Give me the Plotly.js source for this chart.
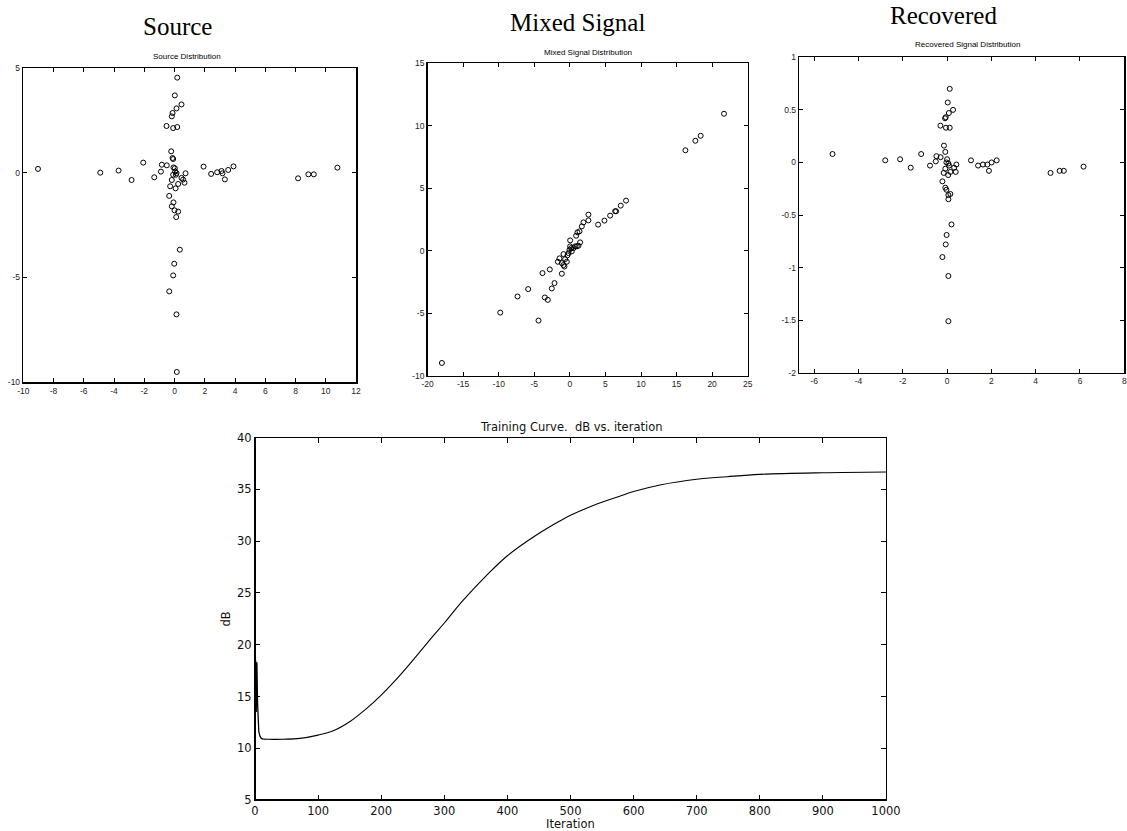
<!DOCTYPE html>
<html>
<head>
<meta charset="utf-8">
<script src="https://cdn.plot.ly/plotly-3.0.1.min.js"></script>
<style>
html,body{margin:0;padding:0;background:#fff;}
#chart{width:1127px;height:831px;}
</style>
</head>
<body>
<div id="chart"></div>
<script>
// ---------- DATA ----------
const sourceX = [0.18,0.02,0.46,0.13,-0.13,-0.18,-0.53,-0.09,0.18,-0.22,-0.13,-0.09,
  -9.03,-4.91,-3.70,-2.84,-2.07,-1.34,-0.84,-0.90,-0.51,-0.07,0.02,-0.09,0.04,0.13,0.09,
  0.73,0.46,0.57,0.66,0.24,-0.18,-0.29,0.07,
  1.92,2.42,2.82,3.11,3.17,3.33,3.55,3.90,8.17,8.85,9.21,10.77,
  -0.35,-0.07,-0.18,0.24,0.00,0.11,0.35,-0.02,-0.09,-0.35,0.13,0.15];
const sourceY = [4.54,3.69,3.26,3.07,2.85,2.69,2.23,2.13,2.18,1.02,0.70,0.65,
  0.18,0.00,0.10,-0.35,0.48,-0.22,0.38,0.05,0.35,0.25,0.21,-0.10,0.06,-0.02,-0.10,
  -0.03,-0.25,-0.33,-0.48,-0.54,-0.35,-0.65,-0.75,
  0.29,-0.06,0.02,0.08,-0.03,-0.32,0.13,0.30,-0.27,-0.08,-0.08,0.24,
  -1.11,-1.42,-1.61,-1.86,-1.80,-2.12,-3.68,-4.35,-4.91,-5.67,-6.77,-9.52];

const mixedX = [-17.99,-9.79,-7.36,-5.86,-4.41,-3.85,-3.52,-3.10,-2.82,-2.54,-2.16,-1.69,-1.46,
  -1.13,-1.13,-0.90,-0.76,-0.90,-0.66,-0.43,-0.34,-0.19,-0.05,0.04,0.04,0.18,0.27,0.51,0.74,
  0.97,1.21,1.44,0.88,1.07,1.35,1.68,1.91,2.61,2.61,3.97,4.86,5.66,6.36,6.50,7.15,7.90,
  16.24,17.64,18.39,21.67];
const mixedY = [-8.98,-4.95,-3.66,-3.07,-5.59,-1.79,-3.74,-3.93,-1.50,-3.02,-2.59,-0.88,-0.61,
  -1.84,-0.99,-1.15,-1.26,-0.27,-0.67,-0.88,-0.37,-0.19,0.08,0.35,0.83,0.21,-0.05,0.21,0.35,
  0.35,0.40,0.67,1.20,1.47,1.55,1.95,2.27,2.43,2.89,2.09,2.41,2.81,3.16,3.16,3.61,4.01,
  8.04,8.80,9.20,10.96];

const recoveredX = [0.12,0.03,0.27,0.08,-0.06,-0.09,-0.30,-0.05,0.12,-0.14,-0.08,
  -5.17,-2.79,-2.12,-1.64,-1.17,-0.77,-0.48,-0.51,-0.29,0.00,-0.03,0.06,0.09,0.42,0.32,0.39,
  0.15,-0.08,-0.15,0.05,-0.21,-0.08,-0.03,0.06,0.15,0.06,
  1.08,1.40,1.62,1.82,1.89,2.01,2.24,4.67,5.08,5.27,6.16,
  0.20,-0.02,-0.06,-0.21,0.06,0.06];
const recoveredY = [0.70,0.57,0.50,0.47,0.43,0.42,0.35,0.33,0.33,0.16,0.10,
  0.08,0.02,0.03,-0.05,0.08,-0.03,0.06,0.01,0.05,0.03,0.00,-0.01,-0.03,-0.02,-0.05,-0.09,
  -0.09,-0.06,-0.10,-0.12,-0.18,-0.24,-0.26,-0.31,-0.30,-0.35,
  0.02,-0.03,-0.02,-0.02,-0.08,0.00,0.02,-0.10,-0.08,-0.08,-0.04,
  -0.59,-0.69,-0.78,-0.90,-1.08,-1.51];

// early iterations (oscillating spike) and the smooth learning curve after it
const spikeIter = [0,1,2,3,4,5,6,8,10,13];
const spikeDB = [8.6,18.5,13.5,18.3,14.5,12.3,11.6,11.15,10.95,10.88];
const curveIter = [13,20,30,45,71,100,124,150,177,200,230,257,283,300,
  330,367,400,446,483,500,536,578,600,642,700,748,800,900,1000];
const curveDB = [10.88,10.87,10.86,10.87,10.95,11.27,
  11.69,12.56,13.85,15.14,17.07,19.0,20.9,22.1,24.3,26.7,28.6,30.6,31.95,32.5,33.45,34.35,
  34.8,35.43,35.98,36.23,36.46,36.62,36.69];

const srcXTicks = [-10,-8,-6,-4,-2,0,2,4,6,8,10,12];
const srcYTicks = [-10,-5,0,5];
const mixXTicks = [-20,-15,-10,-5,0,5,10,15,20,25];
const mixYTicks = [-10,-5,0,5,10,15];
const recXTicks = [-6,-4,-2,0,2,4,6,8];
const recYTicks = [-2,-1.5,-1,-0.5,0,0.5,1];
const trXTicks = [0,100,200,300,400,500,600,700,800,900,1000];
const trYTicks = [5,10,15,20,25,30,35,40];

const panelTitles = ['Source','Mixed Signal','Recovered'];
const panelSubtitles = ['Source Distribution','Mixed Signal Distribution','Recovered Signal Distribution'];
const trainTitle = 'Training Curve.  dB vs. iteration';
const trainXLabel = 'Iteration';
const trainYLabel = 'dB';

// ---------- HELPERS ----------
const W = 1127, H = 831;
const fx = px => px / W;
const fy = py => 1 - py / H;
const lbl = arr => arr.map(v => String(v));

function scatterAxis(domain, range, ticks, fontSize) {
  return {
    domain: domain, range: range, tickmode: 'array', tickvals: ticks, ticktext: lbl(ticks),
    ticks: 'inside', ticklen: 4, tickwidth: 1, tickcolor: '#000',
    showline: true, linecolor: '#000', linewidth: 1.5, mirror: 'allticks',
    showgrid: false, zeroline: false,
    tickfont: {family: 'Liberation Sans, Arial, sans-serif', size: fontSize, color: '#222'},
    fixedrange: true
  };
}

const marker = {symbol: 'circle-open', size: 5, color: '#000', line: {width: 1, color: '#000'}};

const traces = [
  {x: sourceX, y: sourceY, xaxis: 'x', yaxis: 'y', type: 'scatter', mode: 'markers', marker: marker, hoverinfo: 'skip'},
  {x: mixedX, y: mixedY, xaxis: 'x2', yaxis: 'y2', type: 'scatter', mode: 'markers', marker: marker, hoverinfo: 'skip'},
  {x: recoveredX, y: recoveredY, xaxis: 'x3', yaxis: 'y3', type: 'scatter', mode: 'markers', marker: marker, hoverinfo: 'skip'},
  {x: spikeIter, y: spikeDB, xaxis: 'x4', yaxis: 'y4', type: 'scatter', mode: 'lines', line: {color: '#000', width: 1.3}, hoverinfo: 'skip'},
  {x: curveIter, y: curveDB, xaxis: 'x4', yaxis: 'y4', type: 'scatter', mode: 'lines', line: {color: '#000', width: 1.1, shape: 'spline', smoothing: 1}, hoverinfo: 'skip'}
];

const tf = {family: 'DejaVu Sans, sans-serif', size: 11.5, color: '#111'};

const layout = {
  width: W, height: H, margin: {l: 0, r: 0, t: 0, b: 0},
  paper_bgcolor: '#fff', plot_bgcolor: '#fff', showlegend: false,
  xaxis: scatterAxis([fx(23.3), fx(356)], [-10, 12], srcXTicks, 8.5),
  yaxis: Object.assign(scatterAxis([fy(382), fy(68)], [-10, 5], srcYTicks, 8.5), {anchor: 'x'}),
  xaxis2: Object.assign(scatterAxis([fx(427.6), fx(747.7)], [-20, 25], mixXTicks, 8.5), {anchor: 'y2'}),
  yaxis2: Object.assign(scatterAxis([fy(375.7), fy(63.3)], [-10, 15], mixYTicks, 8.5), {anchor: 'x2'}),
  xaxis3: Object.assign(scatterAxis([fx(799.3), fx(1124.3)], [-6.67, 8], recXTicks, 8.5), {anchor: 'y3'}),
  yaxis3: Object.assign(scatterAxis([fy(372.7), fy(57.3)], [-2, 1], recYTicks, 8.5), {anchor: 'x3'}),
  xaxis4: {
    domain: [fx(255), fx(886)], range: [0, 1000], anchor: 'y4', tickmode: 'array', tickvals: trXTicks,
    ticks: 'inside', ticklen: 5, tickwidth: 1, tickcolor: '#000',
    showline: true, linecolor: '#000', linewidth: 1, mirror: 'allticks',
    showgrid: false, zeroline: false, tickfont: tf, fixedrange: true,
    title: {text: trainXLabel, font: tf, standoff: 0}
  },
  yaxis4: {
    domain: [fy(800), fy(437.7)], range: [5, 40], anchor: 'x4', tickmode: 'array', tickvals: trYTicks,
    ticks: 'inside', ticklen: 5, tickwidth: 1, tickcolor: '#000',
    showline: true, linecolor: '#000', linewidth: 1, mirror: 'allticks',
    showgrid: false, zeroline: false, tickfont: tf, fixedrange: true,
    title: {text: trainYLabel, font: tf, standoff: 4}
  },
  shapes: [
    {type: 'line', xref: 'x4 domain', yref: 'y4 domain', x0: 0, x1: 0, y0: 0, y1: 1, line: {color: '#000', width: 2}},
    {type: 'line', xref: 'x4 domain', yref: 'y4 domain', x0: 0, x1: 1, y0: 0, y1: 0, line: {color: '#000', width: 2}}
  ],
  annotations: [
    {text: panelTitles[0], x: fx(177), y: fy(26), xref: 'paper', yref: 'paper', showarrow: false, xanchor: 'center', yanchor: 'middle', font: {family: 'Liberation Serif, Times New Roman, serif', size: 25, color: '#000'}},
    {text: panelTitles[1], x: fx(577), y: fy(23), xref: 'paper', yref: 'paper', showarrow: false, xanchor: 'center', yanchor: 'middle', font: {family: 'Liberation Serif, Times New Roman, serif', size: 25, color: '#000'}},
    {text: panelTitles[2], x: fx(943), y: fy(15), xref: 'paper', yref: 'paper', showarrow: false, xanchor: 'center', yanchor: 'middle', font: {family: 'Liberation Serif, Times New Roman, serif', size: 25, color: '#000'}},
    {text: panelSubtitles[0], x: fx(187), y: fy(57), xref: 'paper', yref: 'paper', showarrow: false, xanchor: 'center', yanchor: 'middle', font: {family: 'Liberation Sans, Arial, sans-serif', size: 8, color: '#000'}},
    {text: panelSubtitles[1], x: fx(588), y: fy(52.7), xref: 'paper', yref: 'paper', showarrow: false, xanchor: 'center', yanchor: 'middle', font: {family: 'Liberation Sans, Arial, sans-serif', size: 8, color: '#000'}},
    {text: panelSubtitles[2], x: fx(967), y: fy(44.3), xref: 'paper', yref: 'paper', showarrow: false, xanchor: 'center', yanchor: 'middle', font: {family: 'Liberation Sans, Arial, sans-serif', size: 8, color: '#000'}},
    {text: trainTitle, x: fx(571), y: fy(427), xref: 'paper', yref: 'paper', showarrow: false, xanchor: 'center', yanchor: 'middle', font: {family: 'DejaVu Sans, sans-serif', size: 11.5, color: '#111'}}
  ]
};

Plotly.newPlot('chart', traces, layout, {displayModeBar: false, staticPlot: true});
</script>
</body>
</html>
